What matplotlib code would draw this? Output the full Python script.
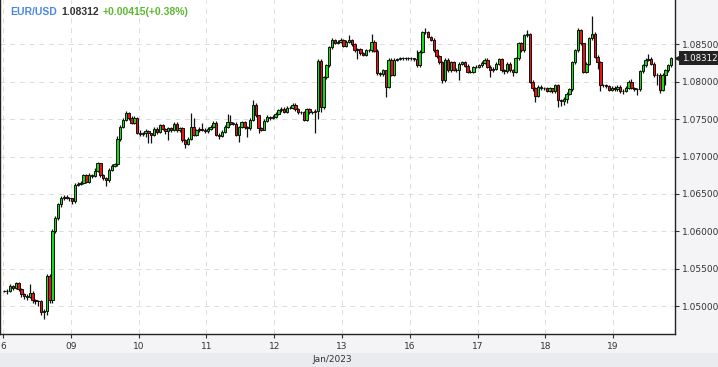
import matplotlib
matplotlib.use("Agg")
import matplotlib.pyplot as plt
import matplotlib.font_manager as fm
from matplotlib.patches import Rectangle
from matplotlib.transforms import blended_transform_factory
import numpy as np

# EUR/USD hourly candles, 6 Jan 2023 .. 19 Jan 2023, one list per trading day
first_open = 1.0521

close_06 = [1.0520, 1.0520, 1.0527, 1.0524, 1.0531, 1.0523, 1.0516, 1.0514, 1.0513, 1.0518, 1.0508, 1.0507,
            1.0507, 1.0493, 1.0494, 1.0540, 1.0508, 1.0601, 1.0618, 1.0636, 1.0644, 1.0646, 1.0645, 1.0644]
high_06 = [1.0522, 1.0523, 1.0530, 1.0529, 1.0533, 1.0532, 1.0524, 1.0518, 1.0516, 1.0530, 1.0520, 1.0510,
           1.0509, 1.0508, 1.0497, 1.0543, 1.0543, 1.0603, 1.0620, 1.0638, 1.0647, 1.0649, 1.0648, 1.0646]
low_06 = [1.0519, 1.0517, 1.0519, 1.0522, 1.0523, 1.0521, 1.0513, 1.0510, 1.0508, 1.0511, 1.0505, 1.0503,
          1.0500, 1.0488, 1.0483, 1.0489, 1.0505, 1.0505, 1.0598, 1.0615, 1.0633, 1.0642, 1.0643, 1.0641]

close_09 = [1.0640, 1.0662, 1.0663, 1.0665, 1.0675, 1.0666, 1.0675, 1.0674, 1.0681, 1.0691, 1.0675, 1.0671,
            1.0668, 1.0682, 1.0688, 1.0690, 1.0724, 1.0740, 1.0749, 1.0758, 1.0752, 1.0745, 1.0752, 1.0732]
high_09 = [1.0645, 1.0664, 1.0666, 1.0667, 1.0677, 1.0677, 1.0678, 1.0677, 1.0684, 1.0693, 1.0692, 1.0677,
           1.0673, 1.0684, 1.0690, 1.0692, 1.0727, 1.0742, 1.0752, 1.0761, 1.0760, 1.0754, 1.0754, 1.0753]
low_09 = [1.0637, 1.0638, 1.0660, 1.0662, 1.0663, 1.0664, 1.0664, 1.0671, 1.0672, 1.0679, 1.0672, 1.0668,
          1.0660, 1.0666, 1.0680, 1.0686, 1.0688, 1.0721, 1.0738, 1.0747, 1.0749, 1.0743, 1.0743, 1.0730]

close_10 = [1.0730, 1.0731, 1.0734, 1.0731, 1.0729, 1.0737, 1.0733, 1.0742, 1.0737, 1.0734, 1.0738, 1.0736,
            1.0744, 1.0735, 1.0738, 1.0722, 1.0717, 1.0724, 1.0740, 1.0729, 1.0735, 1.0737, 1.0736, 1.0734]
high_10 = [1.0735, 1.0733, 1.0737, 1.0735, 1.0732, 1.0739, 1.0739, 1.0744, 1.0744, 1.0738, 1.0740, 1.0740,
           1.0746, 1.0746, 1.0740, 1.0739, 1.0724, 1.0726, 1.0758, 1.0752, 1.0737, 1.0739, 1.0745, 1.0738]
low_10 = [1.0727, 1.0728, 1.0726, 1.0718, 1.0718, 1.0727, 1.0730, 1.0731, 1.0735, 1.0730, 1.0722, 1.0733,
          1.0734, 1.0733, 1.0733, 1.0720, 1.0711, 1.0715, 1.0722, 1.0727, 1.0727, 1.0733, 1.0734, 1.0731]

close_11 = [1.0737, 1.0740, 1.0745, 1.0729, 1.0728, 1.0733, 1.0740, 1.0746, 1.0744, 1.0744, 1.0729, 1.0740,
            1.0746, 1.0739, 1.0738, 1.0749, 1.0769, 1.0755, 1.0738, 1.0736, 1.0748, 1.0753, 1.0751, 1.0753]
high_11 = [1.0739, 1.0742, 1.0747, 1.0747, 1.0731, 1.0735, 1.0742, 1.0757, 1.0755, 1.0746, 1.0746, 1.0741,
           1.0748, 1.0748, 1.0741, 1.0751, 1.0775, 1.0771, 1.0756, 1.0739, 1.0750, 1.0755, 1.0754, 1.0755]
low_11 = [1.0732, 1.0735, 1.0738, 1.0727, 1.0724, 1.0726, 1.0731, 1.0738, 1.0742, 1.0742, 1.0727, 1.0720,
          1.0738, 1.0737, 1.0726, 1.0736, 1.0747, 1.0753, 1.0732, 1.0734, 1.0735, 1.0746, 1.0749, 1.0750]

close_12 = [1.0757, 1.0762, 1.0764, 1.0760, 1.0765, 1.0765, 1.0769, 1.0763, 1.0759, 1.0759, 1.0749, 1.0763,
            1.0759, 1.0759, 1.0761, 1.0828, 1.0766, 1.0806, 1.0822, 1.0846, 1.0855, 1.0852, 1.0853, 1.0855]
high_12 = [1.0759, 1.0764, 1.0766, 1.0766, 1.0767, 1.0768, 1.0771, 1.0771, 1.0765, 1.0761, 1.0761, 1.0765,
           1.0765, 1.0761, 1.0763, 1.0830, 1.0830, 1.0808, 1.0824, 1.0848, 1.0858, 1.0857, 1.0856, 1.0858]
low_12 = [1.0751, 1.0755, 1.0760, 1.0758, 1.0758, 1.0763, 1.0763, 1.0761, 1.0757, 1.0757, 1.0747, 1.0747,
          1.0757, 1.0757, 1.0731, 1.0750, 1.0760, 1.0764, 1.0803, 1.0820, 1.0844, 1.0850, 1.0850, 1.0851]

close_13 = [1.0848, 1.0853, 1.0855, 1.0850, 1.0842, 1.0843, 1.0838, 1.0836, 1.0842, 1.0842, 1.0853, 1.0841,
            1.0811, 1.0810, 1.0815, 1.0793, 1.0829, 1.0809, 1.0829, 1.0830, 1.0831, 1.0831, 1.0831, 1.0831]
high_13 = [1.0857, 1.0855, 1.0862, 1.0857, 1.0852, 1.0845, 1.0845, 1.0840, 1.0844, 1.0844, 1.0863, 1.0855,
           1.0843, 1.0813, 1.0817, 1.0816, 1.0831, 1.0831, 1.0831, 1.0832, 1.0833, 1.0833, 1.0833, 1.0833]
low_13 = [1.0846, 1.0846, 1.0851, 1.0848, 1.0840, 1.0830, 1.0836, 1.0834, 1.0834, 1.0840, 1.0840, 1.0839,
          1.0809, 1.0807, 1.0808, 1.0780, 1.0791, 1.0807, 1.0807, 1.0828, 1.0829, 1.0829, 1.0829, 1.0829]

close_16 = [1.0831, 1.0830, 1.0822, 1.0840, 1.0866, 1.0866, 1.0860, 1.0856, 1.0842, 1.0834, 1.0826, 1.0802,
            1.0829, 1.0815, 1.0826, 1.0816, 1.0815, 1.0824, 1.0826, 1.0821, 1.0813, 1.0813, 1.0819, 1.0820]
high_16 = [1.0833, 1.0832, 1.0842, 1.0842, 1.0868, 1.0871, 1.0867, 1.0861, 1.0858, 1.0844, 1.0836, 1.0828,
           1.0831, 1.0831, 1.0828, 1.0828, 1.0818, 1.0826, 1.0828, 1.0827, 1.0823, 1.0815, 1.0821, 1.0822]
low_16 = [1.0829, 1.0828, 1.0820, 1.0820, 1.0838, 1.0864, 1.0858, 1.0854, 1.0840, 1.0832, 1.0824, 1.0798,
          1.0800, 1.0813, 1.0813, 1.0814, 1.0813, 1.0802, 1.0822, 1.0819, 1.0811, 1.0811, 1.0811, 1.0818]

close_17 = [1.0822, 1.0825, 1.0829, 1.0820, 1.0815, 1.0817, 1.0824, 1.0830, 1.0815, 1.0814, 1.0824, 1.0815,
            1.0813, 1.0831, 1.0851, 1.0842, 1.0862, 1.0863, 1.0800, 1.0791, 1.0781, 1.0793, 1.0791, 1.0791]
high_17 = [1.0824, 1.0827, 1.0831, 1.0831, 1.0822, 1.0819, 1.0826, 1.0832, 1.0832, 1.0817, 1.0826, 1.0826,
           1.0817, 1.0833, 1.0853, 1.0853, 1.0864, 1.0869, 1.0865, 1.0802, 1.0793, 1.0795, 1.0795, 1.0793]
low_17 = [1.0818, 1.0820, 1.0823, 1.0818, 1.0806, 1.0813, 1.0815, 1.0822, 1.0813, 1.0810, 1.0812, 1.0813,
          1.0808, 1.0811, 1.0829, 1.0840, 1.0840, 1.0860, 1.0798, 1.0788, 1.0773, 1.0779, 1.0789, 1.0789]

close_18 = [1.0788, 1.0791, 1.0787, 1.0795, 1.0775, 1.0774, 1.0777, 1.0784, 1.0790, 1.0826, 1.0842, 1.0869,
            1.0851, 1.0813, 1.0824, 1.0858, 1.0864, 1.0833, 1.0826, 1.0795, 1.0795, 1.0794, 1.0789, 1.0792]
high_18 = [1.0793, 1.0793, 1.0792, 1.0797, 1.0797, 1.0777, 1.0779, 1.0786, 1.0792, 1.0828, 1.0844, 1.0871,
           1.0870, 1.0852, 1.0826, 1.0860, 1.0887, 1.0866, 1.0835, 1.0828, 1.0797, 1.0797, 1.0796, 1.0794]
low_18 = [1.0786, 1.0786, 1.0785, 1.0785, 1.0766, 1.0768, 1.0769, 1.0772, 1.0782, 1.0788, 1.0824, 1.0840,
          1.0849, 1.0811, 1.0811, 1.0822, 1.0856, 1.0831, 1.0817, 1.0787, 1.0793, 1.0792, 1.0787, 1.0787]

close_19 = [1.0790, 1.0793, 1.0787, 1.0788, 1.0792, 1.0800, 1.0792, 1.0790, 1.0790, 1.0814, 1.0822, 1.0829,
            1.0830, 1.0824, 1.0809, 1.0809, 1.0789, 1.0809, 1.0815, 1.0822, 1.08312]
high_19 = [1.0794, 1.0795, 1.0795, 1.0790, 1.0794, 1.0802, 1.0803, 1.0793, 1.0792, 1.0816, 1.0824, 1.0831,
           1.0837, 1.0833, 1.0826, 1.0811, 1.0811, 1.0811, 1.0817, 1.0824, 1.0833]
low_19 = [1.0787, 1.0788, 1.0785, 1.0784, 1.0786, 1.0790, 1.0790, 1.0788, 1.0782, 1.0788, 1.0812, 1.0820,
          1.0827, 1.0822, 1.0806, 1.0796, 1.0785, 1.0787, 1.0795, 1.0813, 1.0820]

day_labels = ["6", "09", "10", "11", "12", "13", "16", "17", "18", "19"]
price_ticks = [1.050, 1.055, 1.060, 1.065, 1.070, 1.075, 1.080, 1.085]
symbol = "EUR/USD"
last_price = "1.08312"
change_text = "+0.00415(+0.38%)"
month_label = "Jan/2023"

closes = np.array(close_06 + close_09 + close_10 + close_11 + close_12 + close_13 +
                  close_16 + close_17 + close_18 + close_19)
highs = np.array(high_06 + high_09 + high_10 + high_11 + high_12 + high_13 +
                 high_16 + high_17 + high_18 + high_19)
lows = np.array(low_06 + low_09 + low_10 + low_11 + low_12 + low_13 +
                low_16 + low_17 + low_18 + low_19)
opens = np.concatenate([[first_open], closes[:-1]])

names = {f.name for f in fm.fontManager.ttflist}
if "Liberation Sans Narrow" in names:
    narrow, nsize = "Liberation Sans Narrow", 8.3
else:
    narrow, nsize = "DejaVu Sans", 6.5
bold_font = "Liberation Sans" if "Liberation Sans" in names else "DejaVu Sans"

W, H = 718, 367
fig = plt.figure(figsize=(W / 100, H / 100), dpi=100, facecolor="#f4f4f6")
# plot area in pixels: x 0..675, y 0..334 from top
ax = fig.add_axes([0, (H - 334) / H, 675 / W, 334 / H])
ax.set_facecolor("white")

# darker band under the tick labels
fig.patches.append(Rectangle((0, 0), 1, 14 / H, transform=fig.transFigure,
                             facecolor="#eaebee", edgecolor="none", zorder=-5))

x = np.arange(len(closes))
up = closes >= opens
colors = np.where(up, "#14dc14", "#ee1010")
ax.vlines(x, lows, highs, color="#111111", linewidth=0.9, zorder=2)
body_lo = np.minimum(opens, closes)
body_h = np.maximum(np.abs(closes - opens), 0.00003)
ax.bar(x, body_h, bottom=body_lo, width=0.85, color=colors, edgecolor="#111111",
       linewidth=0.7, zorder=3)

day_pos = [-0.5 + 24 * k for k in range(len(day_labels))]
ax.set_xlim(-1.56, 237.4)
ax.set_ylim(1.046333, 1.090867)

ax.set_xticks(day_pos)
ax.set_xticklabels(day_labels, fontfamily=narrow, fontsize=nsize, color="#333333")
ax.yaxis.tick_right()
ax.set_yticks(price_ticks)
ax.set_yticklabels(["%.5f" % p for p in price_ticks], fontfamily=narrow, fontsize=nsize, color="#333333")
ax.tick_params(axis="y", length=3, width=0.8, pad=2, colors="#333333")
ax.tick_params(axis="x", length=3, width=0.8, pad=3, colors="#333333")

ax.grid(True, color="#dcdcdc", linestyle=(0, (5, 5)), linewidth=0.7)
ax.set_axisbelow(True)

for side in ["left", "bottom", "right"]:
    ax.spines[side].set_color("#222222")
    ax.spines[side].set_linewidth(1.0)
ax.spines["top"].set_visible(False)

# header text
t1 = ax.text(10 / 675, 1 - 12 / 334, symbol, transform=ax.transAxes, color="#4a86e8",
             fontweight="bold", fontsize=7.5, fontfamily=bold_font, va="center", ha="left")
t2 = ax.annotate(last_price, xy=(1, 0.5), xycoords=t1, xytext=(3, 0), textcoords="offset points",
                 color="#333333", fontweight="bold", fontsize=7.5, fontfamily=bold_font,
                 va="center", ha="left")
ax.annotate(change_text, xy=(1, 0.5), xycoords=t2, xytext=(3, 0), textcoords="offset points",
            color="#5cb82e", fontweight="bold", fontsize=7.5, fontfamily=bold_font,
            va="center", ha="left")

# last price tag on the right axis
trans = blended_transform_factory(ax.transAxes, ax.transData)
last = closes[-1]
ax.plot([1 + 5 / 675], [last], marker="<", ms=7, color="#222222", transform=trans,
        clip_on=False, zorder=6)
ax.text(1 + 7 / 675, last, last_price, transform=trans, color="white", fontfamily=narrow,
        fontsize=nsize - 0.3, va="center", ha="left", zorder=6, clip_on=False,
        bbox=dict(boxstyle="square,pad=0.3", facecolor="#222222", edgecolor="none"))

fig.text(332 / W, 7 / H, month_label, fontfamily=narrow, fontsize=nsize, color="#333333",
         ha="center", va="center")

fig.savefig("out.png", dpi=100, facecolor=fig.get_facecolor())
